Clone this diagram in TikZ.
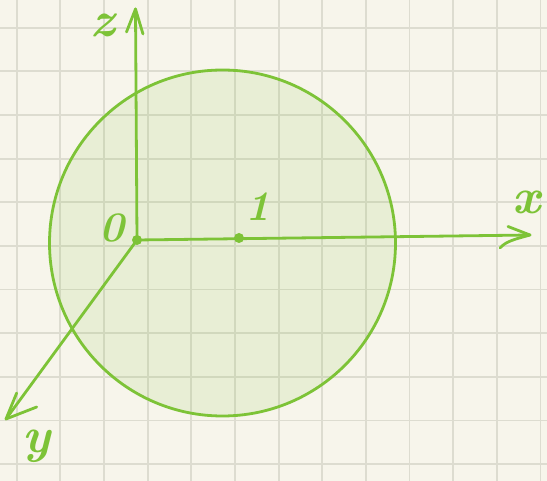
\documentclass[tikz,border=0pt]{standalone}
\usetikzlibrary{calc}
\definecolor{bg}{RGB}{247,245,235}
\definecolor{gridc}{RGB}{221,220,208}
\definecolor{grn}{RGB}{125,195,55}
\begin{document}
\begin{tikzpicture}[x=1pt,y=-1pt,
  ax/.style={grn,line width=2.8pt,line cap=round,line join=round},
  lab/.style={text=grn,font=\fontsize{50}{50}\selectfont\bfseries\itshape,inner sep=0pt},
  digit/.style={lab,font=\fontsize{42}{42}\selectfont\bfseries\itshape},
  gridline/.style={gridc,line width=1.8pt}]
\useasboundingbox (0,0) rectangle (547,481);
\fill[bg] (0,0) rectangle (547,481);
\foreach \i in {0,...,12} \draw[gridline] ({16.7+43.65*\i},0) -- ({16.7+43.65*\i},481);
\foreach \j in {0,...,10} \draw[gridline] (0,{27.7+43.65*\j}) -- (547,{27.7+43.65*\j});
\node[circle,draw=grn,line width=2.8pt,fill=grn,fill opacity=0.12,draw opacity=1,minimum size=346pt,inner sep=0pt] (ball) at (222.5,243) {};
\coordinate (O) at (137,240);
\coordinate (X) at (530,235);
\coordinate (Z) at (135.5,9);
\coordinate (Y) at (6,419);
\coordinate (U) at (239,238);
\draw[ax] (O) -- (X);
\draw[ax] (O) -- (Z);
\draw[ax] (O) -- (Y);
\draw[ax] ([shift={(-9,23)}]Z) -- (Z) -- ([shift={(7.5,25)}]Z);
\draw[ax] ([shift={(-22,-8.5)}]X) -- (X) .. controls ([shift={(-14,4)}]X) and ([shift={(-24,6)}]X) .. ([shift={(-30,13)}]X);
\draw[ax] ([shift={(10.7,-26)}]Y) -- (Y) -- ([shift={(30.7,-12)}]Y);
\fill[grn] (O) circle (5);
\fill[grn] (U) circle (5);
\node[lab] (lz) at (103,25) {z};
\node[digit] (l0) at (112,228) {0};
\node[digit] (l1) at (258,207) {1};
\node[lab] (lx) at (527,202) {x};
\node[lab] (ly) at (37,446) {y};
\end{tikzpicture}
\end{document}
